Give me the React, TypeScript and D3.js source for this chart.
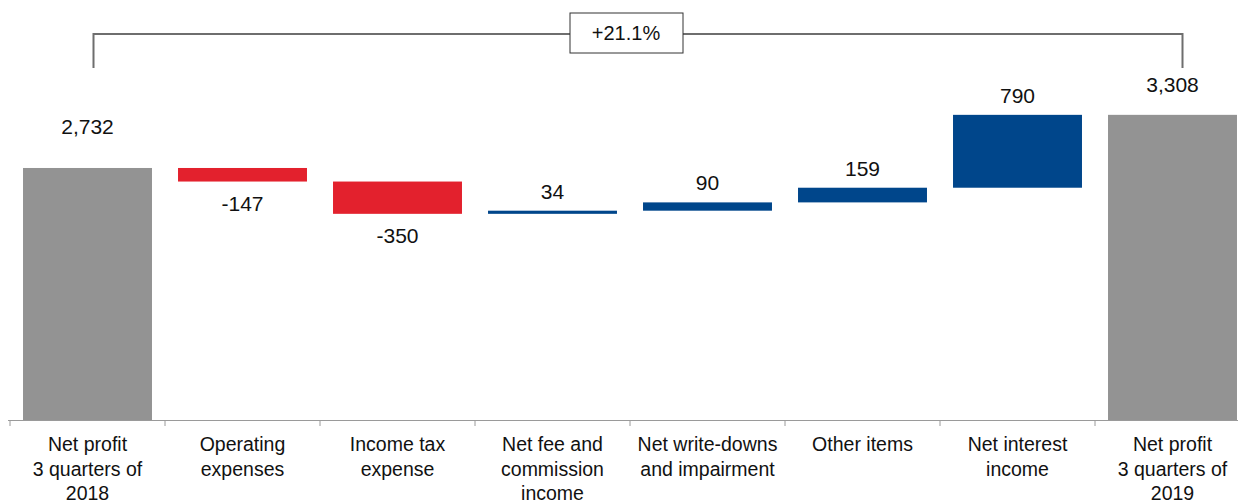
import React from "react";
import * as d3 from "d3";

const categories = [
  "Net profit\n3 quarters of\n2018",
  "Operating\nexpenses",
  "Income tax\nexpense",
  "Net fee and\ncommission\nincome",
  "Net write-downs\nand impairment",
  "Other items",
  "Net interest\nincome",
  "Net profit\n3 quarters of\n2019",
];
const values = [2732, -147, -350, 34, 90, 159, 790, 3308];
const kinds = ["total", "delta", "delta", "delta", "delta", "delta", "delta", "total"];
const valueLabels = ["2,732", "-147", "-350", "34", "90", "159", "790", "3,308"];
const changeLabel = "+21.1%";

const W = 1238;
const H = 503;
const FONT = "'Liberation Sans', Arial, sans-serif";
const colors = { total: "#939393", neg: "#E3212D", pos: "#00468B" };

export default function App() {
  const x = d3
    .scaleBand<string>()
    .domain(categories)
    .range([10, 1250])
    .paddingInner(0.168)
    .paddingOuter(0.084);
  const y = d3.scaleLinear().domain([0, 4553]).range([420, 0]);

  // compute waterfall segments
  let running = 0;
  const segs = values.map((v, i) => {
    let y0: number, y1: number;
    if (kinds[i] === "total") {
      y0 = 0;
      y1 = v;
      running = v;
    } else {
      y0 = running;
      y1 = running + v;
      running = y1;
    }
    return { i, v, lo: Math.min(y0, y1), hi: Math.max(y0, y1), kind: kinds[i] };
  });

  const step = x.step();
  const start = 10;
  const ticks = d3.range(categories.length + 1).map((i) => start + i * step);

  const xl = x(categories[0])! + x.bandwidth() / 2 + 6;
  const xr = x(categories[7])! + x.bandwidth() / 2 + 10;
  const bracketY = 34;
  const bracketBottom = 68;
  const midX = 626;

  return (
    <svg
      width={W}
      height={H}
      style={{ position: "absolute", left: 0, top: 0, background: "#fff" }}
      fontFamily={FONT}
    >
      {/* bracket */}
      <path
        d={`M${xl},${bracketBottom}V${bracketY}H${xr}V${bracketBottom}`}
        fill="none"
        stroke="#6e6e6e"
        strokeWidth={2}
      />
      <rect x={midX - 56} y={13} width={113} height={40} fill="#fff" stroke="#333" strokeWidth={1} />
      <text x={midX} y={40} textAnchor="middle" fontSize={20} fill="#111">
        {changeLabel}
      </text>

      {/* bars */}
      {segs.map((s) => {
        const bx = x(categories[s.i])!;
        const fill = s.kind === "total" ? colors.total : s.v < 0 ? colors.neg : colors.pos;
        return (
          <rect
            key={s.i}
            x={bx}
            y={y(s.hi)}
            width={x.bandwidth()}
            height={Math.max(1, y(s.lo) - y(s.hi))}
            fill={fill}
          />
        );
      })}

      {/* value labels */}
      {segs.map((s) => {
        const cx = x(categories[s.i])! + x.bandwidth() / 2;
        let ty: number;
        if (s.kind === "total") {
          ty = y(s.hi) - (s.i === 0 ? 34 : 23);
        } else if (s.v < 0) {
          ty = y(s.lo) + 29;
        } else {
          ty = y(s.hi) - 12;
        }
        return (
          <text key={s.i} x={cx} y={ty} textAnchor="middle" fontSize={21} fill="#111">
            {valueLabels[s.i]}
          </text>
        );
      })}

      {/* axis */}
      <line x1={8} x2={W} y1={420.5} y2={420.5} stroke="#9a9a9a" strokeWidth={1} />
      {ticks.map((t, i) => (
        <line key={i} x1={t} x2={t} y1={420} y2={426} stroke="#9a9a9a" strokeWidth={1} />
      ))}

      {/* category labels */}
      {categories.map((c, i) => {
        const cx = x(c)! + x.bandwidth() / 2;
        return (
          <text key={i} textAnchor="middle" fontSize={19.5} fill="#111">
            {c.split("\n").map((line, j) => (
              <tspan key={j} x={cx} y={451 + j * 24.5}>
                {line}
              </tspan>
            ))}
          </text>
        );
      })}
    </svg>
  );
}
